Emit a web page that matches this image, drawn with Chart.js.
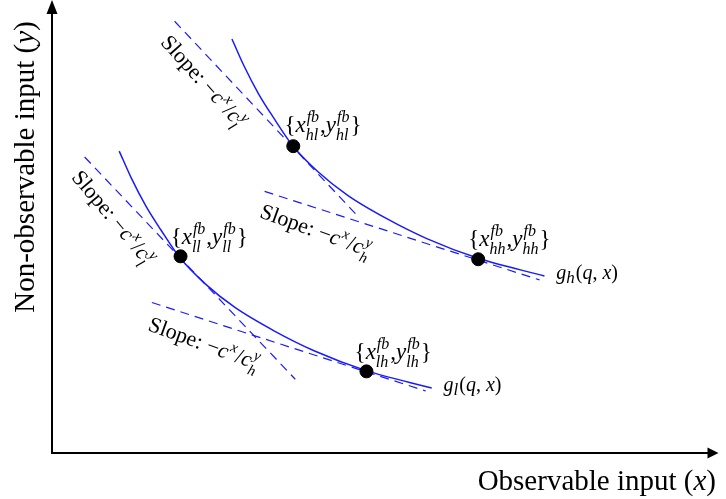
<!DOCTYPE html>
<html>
<head>
<meta charset="utf-8">
<script src="https://cdn.jsdelivr.net/npm/chart.js@4"></script>
<style>
  html, body { margin: 0; padding: 0; background: #fff; }
  #wrap { width: 726px; height: 499px; }
</style>
</head>
<body>
<div id="wrap"><canvas id="chart" width="726" height="499"></canvas></div>
<script>
// isoquant g_h(q, x)
const highX = [183, 195, 210, 225, 244, 270, 300, 340, 380, 432, 499];
const highY = [421, 394, 365, 341, 313, 286, 262, 238, 218, 198, 180];
// isoquant g_l(q, x)
const lowX = [69, 81, 96, 111, 130, 156, 186, 226, 266, 318, 385];
const lowY = [307, 280, 251, 227, 199, 172, 148, 124, 104, 84, 66];

// first-best points: hl, hh, ll, lh
const fbX = [245, 432, 131, 319];
const fbY = [312, 197, 200, 83];

// dashed iso-cost lines (end points)
const steepHighX = [125, 311], steepHighY = [439, 240];
const flatHighX = [216, 494], flatHighY = [266, 176];
const steepLowX = [34, 247], steepLowY = [301, 75];
const flatLowX = [102, 379], flatLowY = [153, 63];

const xTitle = "Observable input";
const yTitle = "Non-observable input";

const pts = (xs, ys) => xs.map((x, i) => ({ x, y: ys[i] }));

const BLUE = "#1a1aff";
const SERIF = '"Liberation Serif", "DejaVu Serif", serif';
const TITLE = 29;

// rich text: [text, italic] or {sup, sub}
function fbLabel(a, b) {
  return [["{", 0], ["x", 1], { sup: "fb", sub: a + b }, [",", 0], ["y", 1], { sup: "fb", sub: a + b }, ["}", 0]];
}
function slopeLabel(t) {
  return [["Slope: ", 0], ["\u2212", 0], ["c", 1], { sup: "x" }, ["/", 0], ["c", 1], { sup: "y", sub: t }];
}
function gLabel(t) {
  return [["g", 1], { sub: t, low: 4 }, ["(", 0], ["q", 1], [", ", 0], ["x", 1], [")", 0]];
}

const labels = [
  { x: 236, y: 326, rot: 0, size: 23, parts: fbLabel("h", "l") },
  { x: 422, y: 210, rot: 0, size: 23, parts: fbLabel("h", "h") },
  { x: 121, y: 213, rot: 0, size: 23, parts: fbLabel("l", "l") },
  { x: 307, y: 96, rot: 0, size: 23, parts: fbLabel("l", "h") },
  { x: 511, y: 177, rot: 0, size: 20, parts: gLabel("h") },
  { x: 397, y: 63, rot: 0, size: 20, parts: gLabel("l") },
  { x: 110, y: 417, rot: 48, size: 22, parts: slopeLabel("l") },
  { x: 20, y: 280, rot: 50, size: 22, parts: slopeLabel("l") },
  { x: 210, y: 240, rot: 20, size: 22, parts: slopeLabel("h") },
  { x: 97, y: 125, rot: 20, size: 22, parts: slopeLabel("h") },
];

function drawRich(ctx, parts, size) {
  const small = Math.round(size * 0.7);
  let cx = 0;
  for (const p of parts) {
    if (Array.isArray(p)) {
      ctx.font = (p[1] ? "italic " : "") + size + "px " + SERIF;
      ctx.fillText(p[0], cx, 0);
      cx += ctx.measureText(p[0]).width;
    } else {
      ctx.font = "italic " + small + "px " + SERIF;
      let w = 0;
      if (p.sup) {
        ctx.fillText(p.sup, cx + 1, -Math.round(size * 0.42));
        w = Math.max(w, ctx.measureText(p.sup).width + 1);
      }
      if (p.sub) {
        if (p.low) ctx.font = "italic " + Math.round(size * 0.85) + "px " + SERIF;
        ctx.fillText(p.sub, cx, p.low || Math.round(size * 0.33));
        w = Math.max(w, ctx.measureText(p.sub).width);
      }
      cx += w + 1;
    }
  }
}

function drawTitle(ctx, text, v, x, y, align) {
  ctx.font = TITLE + "px " + SERIF;
  const w1 = ctx.measureText(text + " (").width;
  const w3 = ctx.measureText(")").width;
  ctx.font = "italic " + TITLE + "px " + SERIF;
  const w2 = ctx.measureText(v).width;
  const total = w1 + w2 + w3;
  const s = align === "right" ? x - total : x - total / 2;
  ctx.font = TITLE + "px " + SERIF;
  ctx.fillText(text + " (", s, y);
  ctx.fillText(")", s + w1 + w2, y);
  ctx.font = "italic " + TITLE + "px " + SERIF;
  ctx.fillText(v, s + w1, y);
}

const decorations = {
  id: "decorations",
  afterDraw(chart) {
    const { ctx, chartArea: a, scales } = chart;
    ctx.save();
    // axes with arrows
    ctx.strokeStyle = "#000";
    ctx.fillStyle = "#000";
    ctx.lineWidth = 2;
    ctx.beginPath();
    ctx.moveTo(a.left + 1, 12);
    ctx.lineTo(a.left + 1, a.bottom);
    ctx.lineTo(a.right - 8, a.bottom);
    ctx.stroke();
    ctx.beginPath();
    ctx.moveTo(a.left + 1, 0);
    ctx.lineTo(a.left - 4.5, 14);
    ctx.lineTo(a.left + 6.5, 14);
    ctx.closePath();
    ctx.fill();
    ctx.beginPath();
    ctx.moveTo(a.right, a.bottom);
    ctx.lineTo(a.right - 11, a.bottom - 5.5);
    ctx.lineTo(a.right - 11, a.bottom + 5.5);
    ctx.closePath();
    ctx.fill();

    // axis titles
    ctx.textBaseline = "alphabetic";
    drawTitle(ctx, xTitle, "x", 716, 490, "right");
    ctx.save();
    ctx.translate(34, 167);
    ctx.rotate(-Math.PI / 2);
    drawTitle(ctx, yTitle, "y", 0, 0, "center");
    ctx.restore();

    // math labels
    for (const l of labels) {
      ctx.save();
      ctx.translate(scales.x.getPixelForValue(l.x), scales.y.getPixelForValue(l.y));
      ctx.rotate((l.rot * Math.PI) / 180);
      drawRich(ctx, l.parts, l.size);
      ctx.restore();
    }
    ctx.restore();
  },
};

const dashed = (data) => ({
  type: "line",
  data,
  borderColor: BLUE,
  borderWidth: 1.2,
  borderDash: [9, 6],
  pointRadius: 0,
  fill: false,
});
const curve = (data) => ({
  type: "line",
  data,
  borderColor: BLUE,
  borderWidth: 1.5,
  pointRadius: 0,
  fill: false,
  cubicInterpolationMode: "monotone",
});

new Chart(document.getElementById("chart").getContext("2d"), {
  type: "scatter",
  data: {
    datasets: [
      {
        data: pts(fbX, fbY),
        backgroundColor: "#000",
        borderColor: "#000",
        pointRadius: 6.5,
        showLine: false,
      },
      curve(pts(highX, highY)),
      curve(pts(lowX, lowY)),
      dashed(pts(steepHighX, steepHighY)),
      dashed(pts(flatHighX, flatHighY)),
      dashed(pts(steepLowX, steepLowY)),
      dashed(pts(flatLowX, flatLowY)),
    ],
  },
  options: {
    responsive: false,
    animation: false,
    devicePixelRatio: 1,
    layout: { padding: { left: 51, right: 0, top: 0, bottom: 46 } },
    scales: {
      x: { type: "linear", display: false, min: 0, max: 675 },
      y: { type: "linear", display: false, min: 0, max: 453 },
    },
    plugins: { legend: { display: false }, tooltip: { enabled: false } },
  },
  plugins: [decorations],
});
</script>
</body>
</html>
